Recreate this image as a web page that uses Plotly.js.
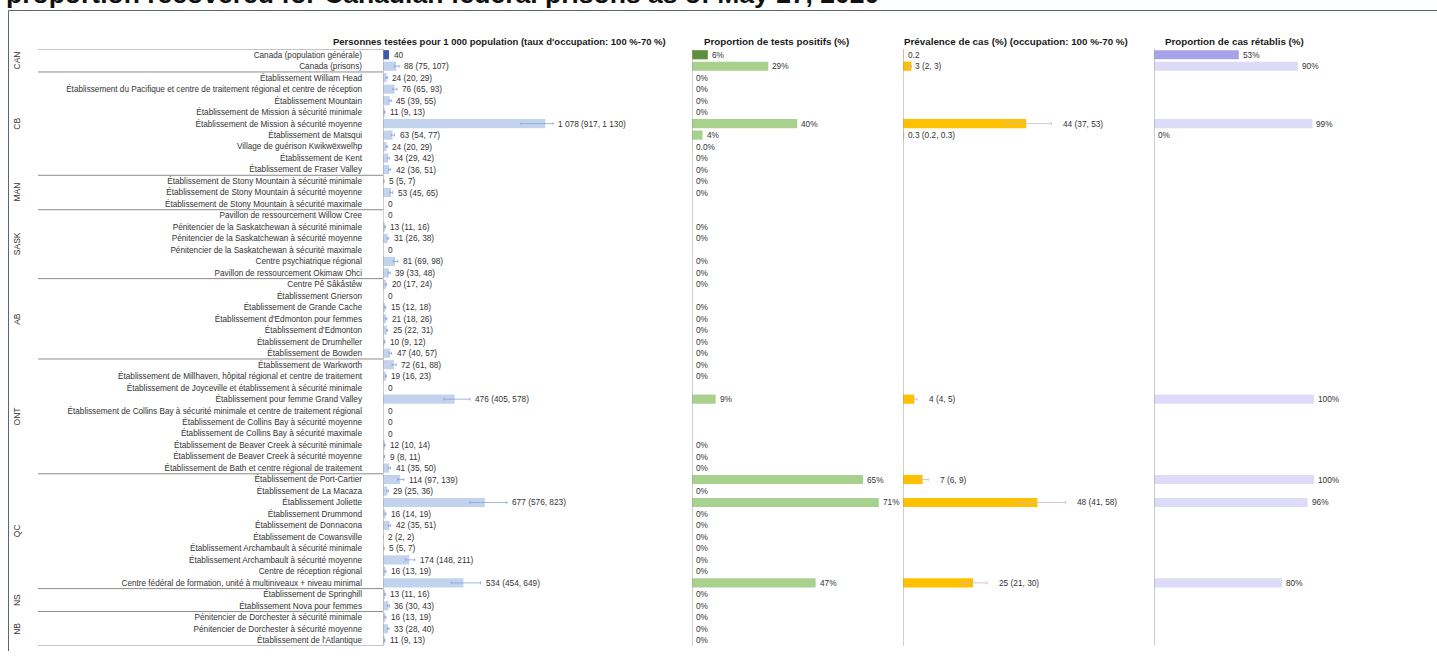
<!DOCTYPE html>
<html><head><meta charset="utf-8">
<script src="https://cdn.plot.ly/plotly-3.0.1.min.js"></script>
<style>html,body{margin:0;padding:0;background:#fff}#chart{width:1437px;height:659px}</style>
</head><body><div id="chart"></div>
<script>
const chartTitle = 'proportion recovered for Canadian federal prisons as of May 27, 2020';
const panelTitles = [
  "Personnes testées pour 1 000 population (taux d'occupation: 100 %-70 %)",
  "Proportion de tests positifs (%)",
  "Prévalence de cas (%) (occupation: 100 %-70 %)",
  "Proportion de cas rétablis (%)"
];
const regions = ['CAN','CB','MAN','SASK','AB','ONT','QC','NS','NB'];
const regionSizes = [2,9,3,6,7,10,10,2,3];
const facilities = [
  'Canada (population générale)','Canada (prisons)',
  'Établissement William Head','Établissement du Pacifique et centre de traitement régional et centre de réception','Établissement Mountain','Établissement de Mission à sécurité minimale','Établissement de Mission à sécurité moyenne','Établissement de Matsqui','Village de guérison Kwikwëxwelhp','Établissement de Kent','Établissement de Fraser Valley',
  'Établissement de Stony Mountain à sécurité minimale','Établissement de Stony Mountain à sécurité moyenne','Établissement de Stony Mountain à sécurité maximale',
  'Pavillon de ressourcement Willow Cree','Pénitencier de la Saskatchewan à sécurité minimale','Pénitencier de la Saskatchewan à sécurité moyenne','Pénitencier de la Saskatchewan à sécurité maximale','Centre psychiatrique régional','Pavillon de ressourcement Okimaw Ohci',
  'Centre Pê Sâkâstêw','Établissement Grierson','Établissement de Grande Cache',"Établissement d'Edmonton pour femmes","Établissement d'Edmonton",'Établissement de Drumheller','Établissement de Bowden',
  'Établissement de Warkworth','Établissement de Millhaven, hôpital régional et centre de traitement','Établissement de Joyceville et établissement à sécurité minimale','Établissement pour femme Grand Valley','Établissement de Collins Bay à sécurité minimale et centre de traitement régional','Établissement de Collins Bay à sécurité moyenne','Établissement de Collins Bay à sécurité maximale','Établissement de Beaver Creek à sécurité minimale','Établissement de Beaver Creek à sécurité moyenne','Établissement de Bath et centre régional de traitement',
  'Établissement de Port-Cartier','Établissement de La Macaza','Établissement Joliette','Établissement Drummond','Établissement de Donnacona','Établissement de Cowansville','Établissement Archambault à sécurité minimale','Établissement Archambault à sécurité moyenne','Centre de réception régional','Centre fédéral de formation, unité à multiniveaux + niveau minimal',
  'Établissement de Springhill','Établissement Nova pour femmes',
  'Pénitencier de Dorchester à sécurité minimale','Pénitencier de Dorchester à sécurité moyenne',"Établissement de l'Atlantique"
];
const tested   = [40,88,24,76,45,11,1078,63,24,34,42,5,53,0,0,13,31,0,81,39,20,0,15,21,25,10,47,72,19,0,476,0,0,0,12,9,41,114,29,677,16,42,2,5,174,16,534,13,36,16,33,11];
const testedLo = [null,75,20,65,39,9,917,54,20,29,36,5,45,null,null,11,26,null,69,33,17,null,12,18,22,9,40,61,16,null,405,null,null,null,10,8,35,97,25,576,14,35,2,5,148,13,454,11,30,13,28,9];
const testedHi = [null,107,29,93,55,13,1130,77,29,42,51,7,65,null,null,16,38,null,98,48,24,null,18,26,31,12,57,88,23,null,578,null,null,null,14,11,50,139,36,823,19,51,2,7,211,19,649,16,43,19,40,13];
const positivity = [6,29,0,0,0,0,40,4,0.04,0,0,0,0,null,null,0,0,null,0,0,0,null,0,0,0,0,0,0,0,null,9,null,null,null,0,0,0,65,0,71,0,0,0,0,0,0,47,0,0,0,0,0];
const prevalence   = [0.2,3,null,null,null,null,44,0.3,null,null,null,null,null,null,null,null,null,null,null,null,null,null,null,null,null,null,null,null,null,null,4,null,null,null,null,null,null,7,null,48,null,null,null,null,null,null,25,null,null,null,null,null];
const prevalenceLo = [null,2,null,null,null,null,37,0.2,null,null,null,null,null,null,null,null,null,null,null,null,null,null,null,null,null,null,null,null,null,null,4,null,null,null,null,null,null,6,null,41,null,null,null,null,null,null,21,null,null,null,null,null];
const prevalenceHi = [null,3,null,null,null,null,53,0.3,null,null,null,null,null,null,null,null,null,null,null,null,null,null,null,null,null,null,null,null,null,null,5,null,null,null,null,null,null,9,null,58,null,null,null,null,null,null,30,null,null,null,null,null];
const recovered = [53,90,null,null,null,null,99,0,null,null,null,null,null,null,null,null,null,null,null,null,null,null,null,null,null,null,null,null,null,null,100,null,null,null,null,null,null,100,null,96,null,null,null,null,null,null,80,null,null,null,null,null];

const W = 1437, H = 659;
const px = x => x / W, py = y => 1 - y / H;
const FONT = 'Liberation Sans, Arial, sans-serif';
const TXT = '#333333';
const fmt = n => (n < 1 && n > 0) ? n.toFixed(1) : String(Math.round(n)).replace(/\B(?=(\d{3})+(?!\d))/g, ' ');
const pct = v => v === 0 ? '0%' : (v < 1 ? v.toFixed(1) + '%' : Math.round(v) + '%');
const has = v => v !== null && v !== undefined;

const idx = facilities.map((_, i) => i);
function rowsWith(arr) { return idx.filter(i => has(arr[i])); }

const traces = [];
function barTrace(vals, xa, dark, light) {
  const r = rowsWith(vals);
  traces.push({
    type: 'bar', orientation: 'h', xaxis: xa, yaxis: 'y',
    x: r.map(i => vals[i]), y: r.map(i => facilities[i]),
    width: 0.8,
    marker: {color: r.map(i => i === 0 ? dark : light), line: {width: 0}},
    hoverinfo: 'x+y', showlegend: false
  });
}
function errTrace(vals, lo, hi, xa, color) {
  const r = idx.filter(i => has(lo[i]) && has(hi[i]));
  traces.push({
    type: 'scatter', mode: 'markers', xaxis: xa, yaxis: 'y',
    x: r.map(i => vals[i]), y: r.map(i => facilities[i]),
    marker: {size: 1, opacity: 0},
    error_x: {type: 'data', symmetric: false,
      array: r.map(i => hi[i] - vals[i]), arrayminus: r.map(i => vals[i] - lo[i]),
      color: color, thickness: 0.8, width: 1.5},
    hoverinfo: 'skip', showlegend: false
  });
}
barTrace(tested, 'x', '#3b5ba6', '#c3d3ee');
errTrace(tested, testedLo, testedHi, 'x', '#8aa2d2');
barTrace(positivity, 'x2', '#5e8f3e', '#a9d18e');
barTrace(prevalence, 'x3', '#ffc000', '#ffc000');
errTrace(prevalence, prevalenceLo, prevalenceHi, 'x3', '#d2b6b6');
barTrace(recovered, 'x4', '#a8a2e8', '#dddbf8');

const annotations = [];
const lblFont = {family: FONT, size: 8.3, color: TXT};
// panel 1 labels
idx.forEach(i => {
  const v = tested[i];
  const t = has(testedLo[i]) ? `${fmt(v)} (${fmt(testedLo[i])}, ${fmt(testedHi[i])})` : fmt(v);
  annotations.push({xref: 'x', yref: 'y', x: has(testedHi[i]) ? testedHi[i] : v, y: facilities[i],
    text: t, showarrow: false, xanchor: 'left', yanchor: 'middle', xshift: 3, font: lblFont});
});
idx.filter(i => has(positivity[i])).forEach(i => {
  annotations.push({xref: 'x2', yref: 'y', x: positivity[i], y: facilities[i],
    text: pct(positivity[i]), showarrow: false, xanchor: 'left', yanchor: 'middle', xshift: 2, font: lblFont});
});
idx.filter(i => has(prevalence[i])).forEach(i => {
  const v = prevalence[i];
  const t = has(prevalenceLo[i]) ? `${fmt(v)} (${fmt(prevalenceLo[i])}, ${fmt(prevalenceHi[i])})` : fmt(v);
  const hasCI = has(prevalenceHi[i]);
  annotations.push({xref: 'x3', yref: 'y', x: hasCI ? prevalenceHi[i] : v, y: facilities[i],
    text: t, showarrow: false, xanchor: 'left', yanchor: 'middle', xshift: hasCI && prevalenceHi[i] > 4 ? 10 : 2, font: lblFont});
});
idx.filter(i => has(recovered[i])).forEach(i => {
  annotations.push({xref: 'x4', yref: 'y', x: recovered[i], y: facilities[i],
    text: pct(recovered[i]), showarrow: false, xanchor: 'left', yanchor: 'middle', xshift: 2, font: lblFont});
});
// region labels and separators
const shapes = [];
const lineStyle = {color: '#8c8c8c', width: 1};
let start = 0;
shapes.push({type: 'line', xref: 'paper', yref: 'y', x0: px(38), x1: px(383), y0: -0.5, y1: -0.5, line: lineStyle});
regions.forEach((r, k) => {
  const n = regionSizes[k];
  annotations.push({xref: 'paper', yref: 'y', x: px(17), y: start + (n - 1) / 2, text: r, textangle: -90,
    showarrow: false, xanchor: 'center', yanchor: 'middle', font: {family: FONT, size: 8.5, color: TXT}});
  start += n;
  shapes.push({type: 'line', xref: 'paper', yref: 'y', x0: px(38), x1: px(383), y0: start - 0.5, y1: start - 0.5, line: lineStyle});
});
// panel axis lines
['x','x2','x3','x4'].forEach(a => {
  shapes.push({type: 'line', xref: a, yref: 'y', x0: 0, x1: 0, y0: -0.5, y1: facilities.length - 0.5, line: {color: '#a0a0a0', width: 1}});
});
// outer frame
shapes.push({type: 'line', xref: 'paper', yref: 'paper', x0: px(8.5), x1: px(8.5), y0: py(10.5), y1: py(651), line: {color: '#5b6675', width: 1}});
shapes.push({type: 'line', xref: 'paper', yref: 'paper', x0: px(8.5), x1: px(1437), y0: py(10.5), y1: py(10.5), line: {color: '#5b6675', width: 1}});
// panel headers
const headerX = [499, 776, 1016, 1234];
panelTitles.forEach((t, k) => {
  annotations.push({xref: 'paper', yref: 'paper', x: px(headerX[k]), y: py(41), text: '<b>' + t + '</b>',
    showarrow: false, xanchor: 'center', yanchor: 'middle', font: {family: FONT, size: k === 0 ? 9.5 : 9.8, color: '#1a1a1a'}});
});
// clipped chart title
annotations.push({xref: 'paper', yref: 'paper', x: px(4), y: py(11.5), text: '<b>' + chartTitle + '</b>',
  showarrow: false, xanchor: 'left', yanchor: 'bottom', font: {family: FONT, size: 26.5, color: '#111'}});

const xa = (d0, d1, max) => ({domain: [px(d0), px(d1)], range: [0, max], showgrid: false, zeroline: false,
  showline: false, showticklabels: false, ticks: '', fixedrange: true});
const layout = {
  width: W, height: H, margin: {l: 0, r: 0, t: 0, b: 0}, paper_bgcolor: '#fff', plot_bgcolor: 'rgba(0,0,0,0)',
  showlegend: false, bargap: 0.2,
  xaxis: xa(383, 690, 2040),
  xaxis2: Object.assign(xa(692, 898, 78.3), {anchor: 'y'}),
  xaxis3: Object.assign(xa(903, 1148, 87.5), {anchor: 'y'}),
  xaxis4: Object.assign(xa(1154, 1430, 172.5), {anchor: 'y'}),
  yaxis: {domain: [py(646), py(49)], type: 'category', categoryorder: 'array', categoryarray: facilities,
    range: [facilities.length - 0.5, -0.5], showgrid: false, zeroline: false, showline: false, ticks: '',
    ticklabelstandoff: 20, tickfont: {family: FONT, size: 8.2, color: TXT}, automargin: false, fixedrange: true},
  shapes: shapes, annotations: annotations
};
Plotly.newPlot('chart', traces, layout, {displayModeBar: false, staticPlot: true});
</script>
</body></html>
